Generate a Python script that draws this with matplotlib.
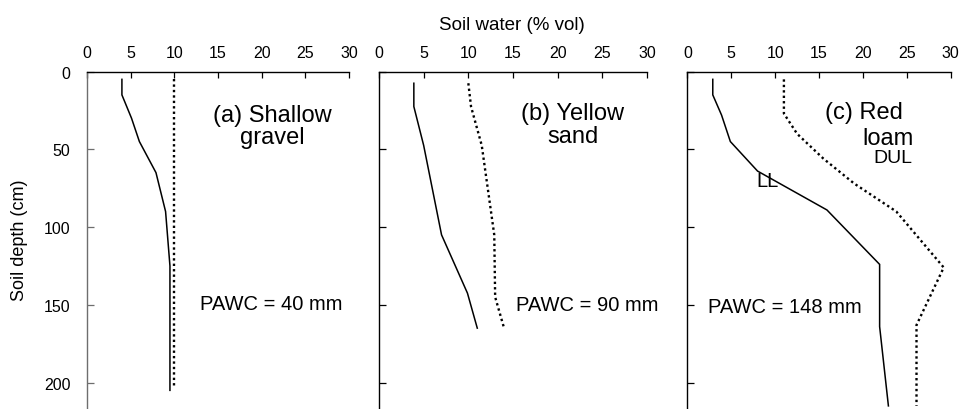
#!/usr/bin/env python
"""Soil water profiles (LL / DUL) for three soils, Excel-style panels."""

import numpy as np
import matplotlib
matplotlib.use("Agg")
import matplotlib.pyplot as plt

plt.rcParams["font.family"] = ["Liberation Sans", "DejaVu Sans"]

# ── data (depth in cm, soil water in % vol) ─────────────────────────────────
A_LL_DEPTH  = [5, 15, 30, 45, 65, 90, 125, 205]
A_LL        = [4.0, 4.0, 5.1, 6.0, 7.9, 9.0, 9.5, 9.5]
A_DUL_DEPTH = [5, 202]
A_DUL       = [10.0, 10.0]

B_LL_DEPTH  = [7.5, 22.5, 47.5, 105, 142.5, 165]
B_LL        = [3.9, 3.9, 5.0, 7.0, 9.9, 11.0]
B_DUL_DEPTH = [7.5, 22.5, 47.5, 105, 145, 165]
B_DUL       = [10.0, 10.3, 11.5, 12.9, 13.0, 14.0]

C_LL_DEPTH  = [5, 15, 28, 45, 64, 89, 124, 164, 215]
C_LL        = [2.9, 2.9, 3.9, 4.9, 8.0, 15.9, 21.9, 21.9, 22.9]
C_DUL_DEPTH = [5, 27, 40, 56, 72, 90, 126, 163, 215]
C_DUL       = [11.0, 11.0, 12.5, 15.5, 19.0, 23.8, 29.2, 26.1, 26.1]

X_TICKS = [0, 5, 10, 15, 20, 25, 30]
Y_TICKS = [0, 50, 100, 150, 200]
PAWC    = ["PAWC = 40 mm", "PAWC = 90 mm", "PAWC = 148 mm"]

# ── layout (figure fractions) ───────────────────────────────────────────────
AX_POS = [
    [0.0907, 0.0, 0.2732, 0.823],
    [0.3952, 0.0, 0.2795, 0.823],
    [0.7167, 0.0, 0.2747, 0.823],
]
DOT = (0, (1.0, 1.3))


def style_axis(ax, show_ylabels, spine_col="black"):
    ax.set_xlim(0, 30)
    ax.set_ylim(217, 0)
    ax.xaxis.tick_top()
    ax.set_xticks(X_TICKS)
    ax.set_yticks(Y_TICKS)
    if not show_ylabels:
        ax.set_yticklabels([])
    for s in ("right", "bottom"):
        ax.spines[s].set_visible(False)
    for s in ("left", "top"):
        ax.spines[s].set_linewidth(1.0)
        ax.spines[s].set_color("black")
    ax.spines["left"].set_color(spine_col)
    ax.tick_params(axis="x", direction="in", length=4, width=0.9,
                   pad=8, labelsize=11.5)
    ax.tick_params(axis="y", direction="in", length=5, width=0.9,
                   pad=12, labelsize=11.5, color=spine_col)
    ax.patch.set_visible(False)


def main():
    fig = plt.figure(figsize=(9.59, 4.10), dpi=100)
    axes = [fig.add_axes(p) for p in AX_POS]

    panels = [
        (A_LL_DEPTH, A_LL, A_DUL_DEPTH, A_DUL),
        (B_LL_DEPTH, B_LL, B_DUL_DEPTH, B_DUL),
        (C_LL_DEPTH, C_LL, C_DUL_DEPTH, C_DUL),
    ]
    for i, (ax, (lld, ll, duld, dul)) in enumerate(zip(axes, panels)):
        ax.plot(ll, lld, color="black", lw=1.1, solid_joinstyle="miter")
        ax.plot(dul, duld, color="black", lw=1.7, linestyle=DOT)
        style_axis(ax, show_ylabels=(i == 0),
                   spine_col="#6e6e6e" if i == 0 else "black")

    # panel labels
    axes[0].text(21.2, 35, "(a) Shallow\ngravel", ha="center", va="center",
                 fontsize=17, linespacing=1.05)
    axes[1].text(21.7, 34, "(b) Yellow\nsand", ha="center", va="center",
                 fontsize=17, linespacing=1.05)
    axes[2].text(20.1, 26, "(c) Red", ha="center", va="center", fontsize=17)
    axes[2].text(22.8, 43, "loam", ha="center", va="center", fontsize=17)
    axes[2].text(23.4, 55.5, "DUL", ha="center", va="center", fontsize=14)
    axes[2].text(9.1, 70.3, "LL", ha="center", va="center", fontsize=14.5)

    # PAWC annotations
    axes[0].text(21.1, 149.4, PAWC[0], ha="center", va="center", fontsize=14.5)
    axes[1].text(23.3, 150.0, PAWC[1], ha="center", va="center", fontsize=14.5)
    axes[2].text(11.1, 151.0, PAWC[2], ha="center", va="center", fontsize=14.5)

    fig.text(512 / 959, 1 - 25 / 410, "Soil water (% vol)", ha="center",
             va="center", fontsize=13.5)
    fig.text(20 / 959, 1 - 240 / 410, "Soil depth (cm)", ha="center",
             va="center", rotation=90, fontsize=13)

    fig.savefig("out.png", dpi=100)
    plt.close(fig)


if __name__ == "__main__":
    main()
